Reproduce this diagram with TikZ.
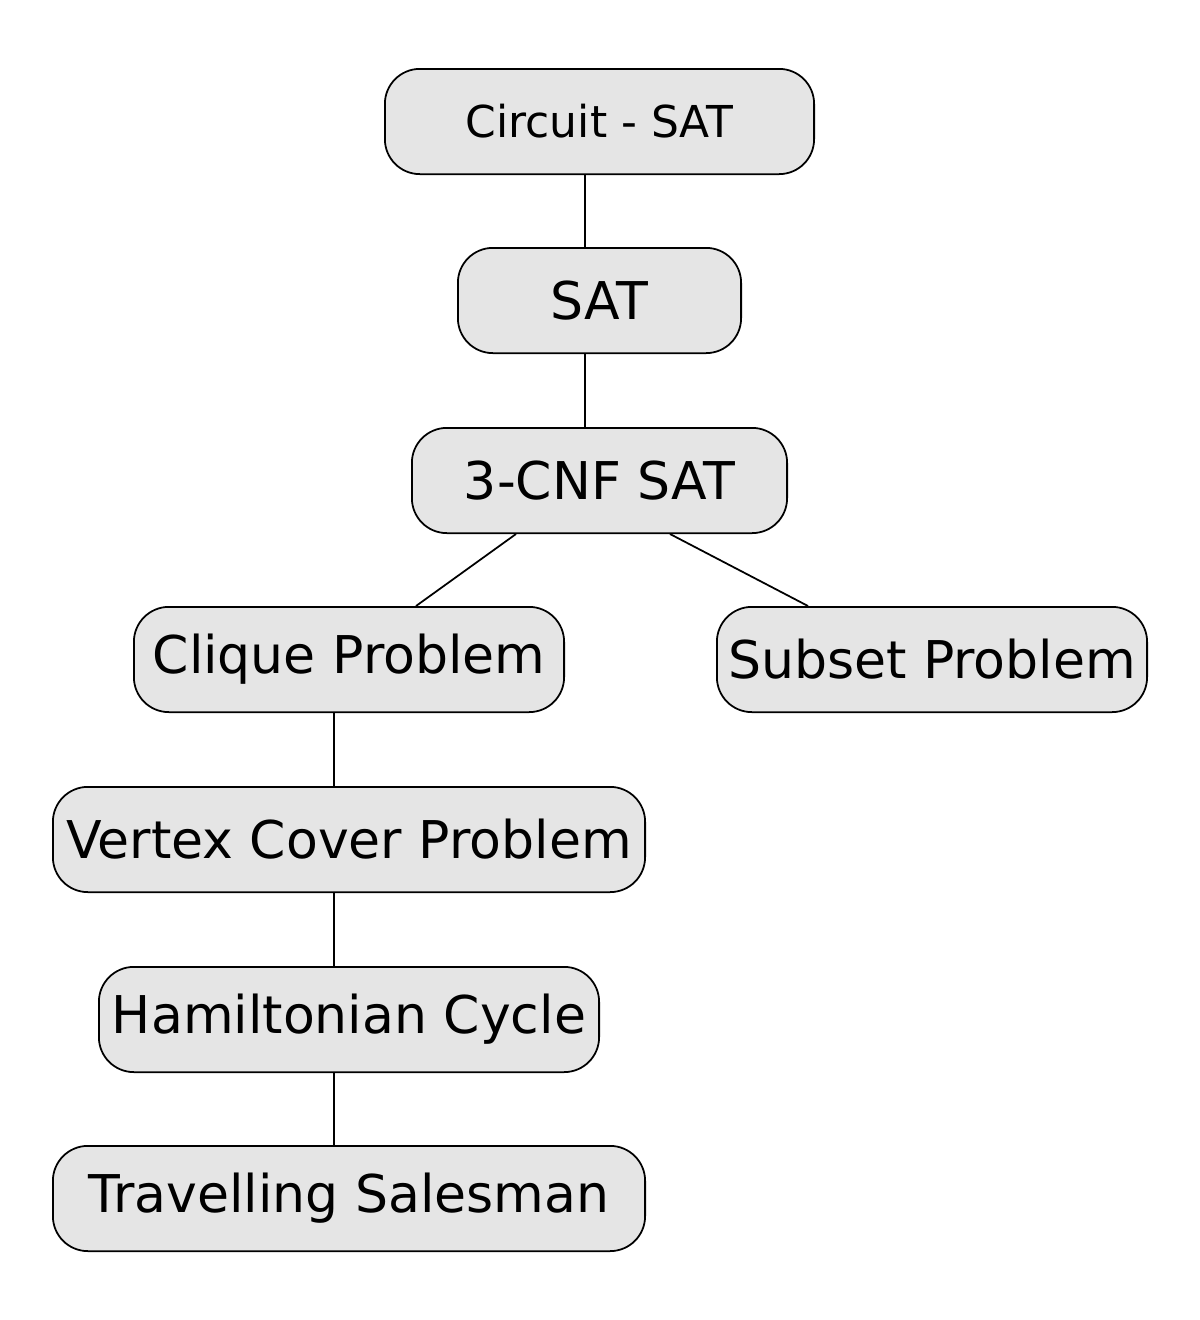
\documentclass[tikz,border=0pt]{standalone}
\usepackage{fontspec}
\setmainfont{DejaVu Sans}
\begin{document}
\begin{tikzpicture}[x=0.01cm,y=-0.01cm,
  box/.style={draw=black,fill=black!10,rounded corners=3.5mm,line width=0.5pt,inner sep=0pt,font=\fontsize{14.8}{16}\selectfont},
  link/.style={line width=0.5pt}]
\useasboundingbox (0,0) rectangle (1200,1320);
\newcommand{\bx}[6]{\node[box,minimum width=#3*0.01cm-0.5pt,minimum height=#4*0.01cm-0.5pt,#6] (#1) at (#2) {#5};}
\bx{cs}{599.5,121.5}{431}{107}{Circuit - SAT}{font=\fontsize{12.5}{14}\selectfont}
\bx{sat}{599.5,300.5}{285}{107}{SAT}{}
\bx{cnf}{599.5,480.5}{377}{107}{3-CNF SAT}{}
\bx{cl}{349,659.5}{432}{107}{Clique Problem}{}
\bx{sub}{932,659.5}{432}{107}{Subset Problem}{}
\bx{vc}{349,839.5}{594}{107}{Vertex Cover Problem}{}
\bx{ham}{349,1019.5}{502}{107}{Hamiltonian Cycle}{}
\bx{ts}{349,1198.5}{594}{107}{Travelling Salesman}{}
\draw[link] (cs.south -| 585,0) -- (sat.north -| 585,0);
\draw[link] (sat.south -| 585,0) -- (cnf.north -| 585,0);
\draw[link] (cnf.south -| 516,0) -- (cl.north -| 416,0);
\draw[link] (cnf.south -| 670,0) -- (sub.north -| 808,0);
\draw[link] (cl.south -| 334,0) -- (vc.north -| 334,0);
\draw[link] (vc.south -| 334,0) -- (ham.north -| 334,0);
\draw[link] (ham.south -| 334,0) -- (ts.north -| 334,0);
\end{tikzpicture}
\end{document}
